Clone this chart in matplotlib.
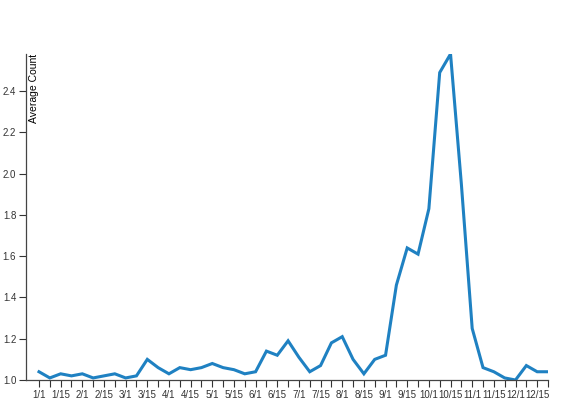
import matplotlib
matplotlib.use("Agg")
import matplotlib.pyplot as plt

# weekly buckets, labels every other week
week_labels = [f"{m}/{d}" for m in range(1, 13) for d in (1, 8, 15, 22)]
avg_count = [
    1.04, 1.01, 1.03, 1.02, 1.03, 1.01, 1.02, 1.03, 1.01, 1.02,
    1.10, 1.06, 1.03, 1.06, 1.05, 1.06, 1.08, 1.06, 1.05, 1.03,
    1.04, 1.14, 1.12, 1.19, 1.11, 1.04, 1.07, 1.18, 1.21, 1.10,
    1.03, 1.10, 1.12, 1.46, 1.64, 1.61, 1.83, 2.49, 2.58, 1.95,
    1.25, 1.06, 1.04, 1.01, 1.00, 1.07, 1.04, 1.04,
]

plt.rcParams["font.family"] = ["Liberation Sans", "DejaVu Sans"]

fig = plt.figure(figsize=(5.8, 4.0), dpi=100)
ax = fig.add_axes([26 / 580, 20 / 400, 522 / 580, 326 / 400])

x = list(range(len(avg_count)))
ax.plot(x, avg_count, color="#1f81c2", linewidth=2.2, solid_joinstyle="miter")

ax.set_xlim(-1.2, len(avg_count) - 1)
ax.set_ylim(1.0, max(avg_count))
ax.set_xticks(x)
ax.set_xticklabels([lbl if i % 2 == 0 else "" for i, lbl in enumerate(week_labels)])
ax.set_yticks([1.0, 1.2, 1.4, 1.6, 1.8, 2.0, 2.2, 2.4])
ax.set_yticklabels(["1.0", "1.2", "1.4", "1.6", "1.8", "2.0", "2.2", "2.4"])
ax.tick_params(labelsize=7, length=5, width=0.8, colors="#333333", pad=2)

for side in ("top", "right"):
    ax.spines[side].set_visible(False)
for side in ("left", "bottom"):
    ax.spines[side].set_color("#444444")
    ax.spines[side].set_linewidth(0.9)

ax.text(0.006, 1.0, "Average Count", transform=ax.transAxes, rotation=90,
        ha="left", va="top", fontsize=7.5)

fig.savefig("out.png", dpi=100)
